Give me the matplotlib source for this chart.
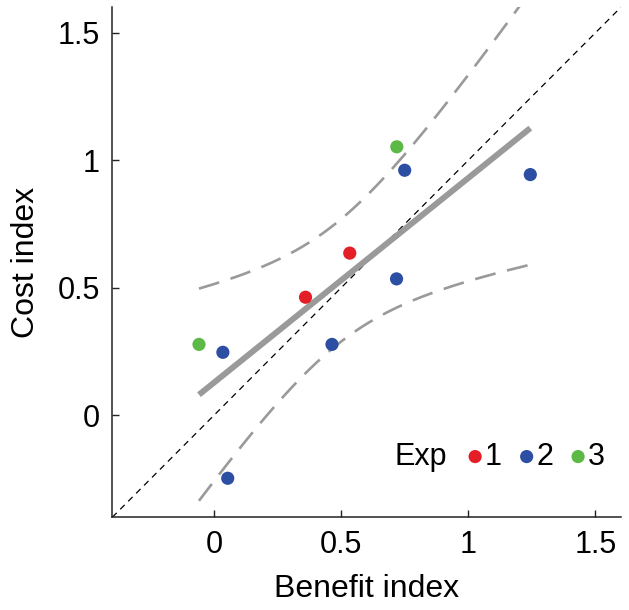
import numpy as np
import matplotlib
matplotlib.use("Agg")
import matplotlib.pyplot as plt

plt.rcParams['font.family'] = ['Liberation Sans', 'DejaVu Sans']

# ---- data ----
exp_labels = ['1', '2', '3']
exp_colors = ['#e41e26', '#2c4ea3', '#5cb946']

exp1_benefit = [0.360, 0.534]
exp1_cost = [0.463, 0.636]

exp2_benefit = [0.035, 0.054, 0.464, 0.718, 0.750, 1.244]
exp2_cost = [0.247, -0.247, 0.278, 0.535, 0.961, 0.944]

exp3_benefit = [-0.059, 0.719]
exp3_cost = [0.278, 1.053]

F_CRIT = 4.459   # F(0.95; 2, n-2) for n = 10, Working-Hotelling band

tick_values = [0, 0.5, 1, 1.5]
tick_labels = ['0', '0.5', '1', '1.5']

# ---- fit ----
x_all = np.array(exp1_benefit + exp2_benefit + exp3_benefit)
y_all = np.array(exp1_cost + exp2_cost + exp3_cost)
n = len(x_all)
slope, intercept = np.polyfit(x_all, y_all, 1)
resid = y_all - (intercept + slope * x_all)
s = np.sqrt(np.sum(resid ** 2) / (n - 2))
xm = x_all.mean()
sxx = np.sum((x_all - xm) ** 2)
xf = np.linspace(x_all.min(), x_all.max(), 200)
yf = intercept + slope * xf
half = np.sqrt(2 * F_CRIT) * s * np.sqrt(1.0 / n + (xf - xm) ** 2 / sxx)

fig = plt.figure(figsize=(6.29, 6.10), dpi=100)
ax = fig.add_axes([0.1785, 0.152, 0.8085, 0.836])

band_kw = dict(color='#9a9a9a', lw=1.9, dashes=(8, 4.5), solid_capstyle='butt')
ax.plot(xf, yf + half, **band_kw)
ax.plot(xf, yf - half, **band_kw)
ax.axline((0, 0), slope=1, color='black', lw=0.9, dashes=(5, 4))
ax.plot(xf, yf, color='#9a9a9a', lw=4.3, solid_capstyle='butt')

handles = []
for xs, ys, c, lab in zip([exp1_benefit, exp2_benefit, exp3_benefit],
                          [exp1_cost, exp2_cost, exp3_cost],
                          exp_colors, exp_labels):
    h = ax.scatter(xs, ys, s=90, color=c, edgecolors='none', zorder=5, label=lab)
    handles.append(h)

ax.set_xlim(-0.4, 1.6)
ax.set_ylim(-0.4, 1.6)
ax.set_xticks(tick_values)
ax.set_xticklabels(tick_labels)
ax.set_yticks(tick_values)
ax.set_yticklabels(tick_labels)
ax.tick_params(direction='in', length=5, width=1.0, labelsize=22, color='#222222')
ax.tick_params(axis='x', pad=9)
ax.tick_params(axis='y', pad=9)
for side in ['top', 'right']:
    ax.spines[side].set_visible(False)
for side in ['left', 'bottom']:
    ax.spines[side].set_linewidth(1.1)
    ax.spines[side].set_color('#222222')

ax.set_xlabel('Benefit index', fontsize=23, labelpad=10)
ax.set_ylabel('Cost index', fontsize=23, labelpad=12)

ax.text(0.555, 0.119, 'Exp', transform=ax.transAxes, fontsize=22,
        ha='left', va='center')
leg = ax.legend(handles=handles, ncol=3, loc='center left',
                bbox_to_anchor=(0.700, 0.119), frameon=False, fontsize=22,
                handlelength=0.45, handletextpad=0.1, columnspacing=0.58,
                borderpad=0, borderaxespad=0, scatterpoints=1, markerscale=1.0)

fig.savefig('out.png', dpi=100)
